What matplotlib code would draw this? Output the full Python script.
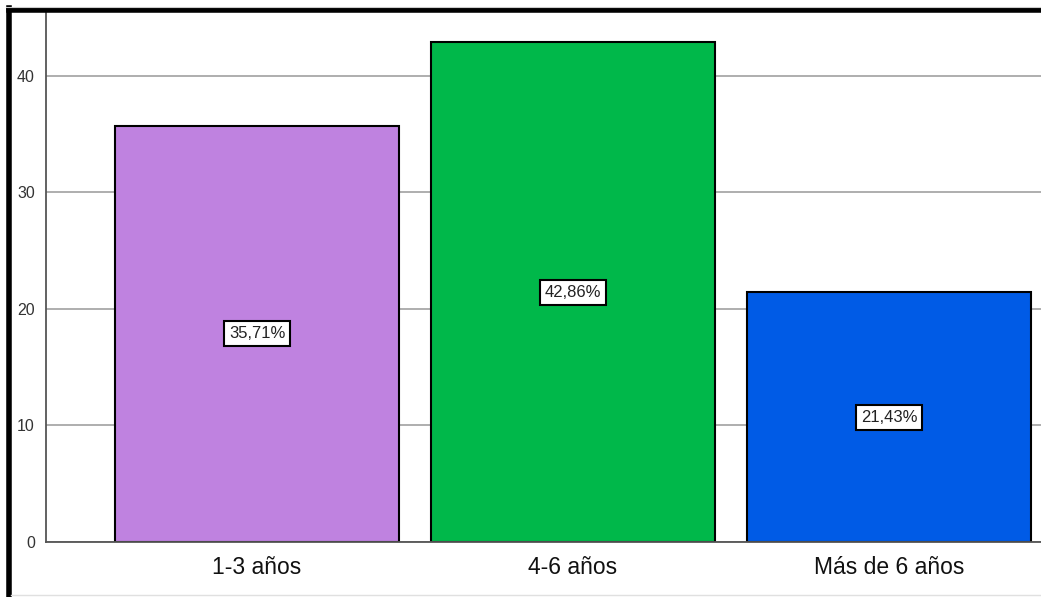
import matplotlib
matplotlib.use("Agg")
import matplotlib.pyplot as plt
from matplotlib.lines import Line2D

categories = ["1-3 años", "4-6 años", "Más de 6 años"]
values = [35.71, 42.86, 21.43]
labels = ["35,71%", "42,86%", "21,43%"]
colors = ["#BF82E0", "#00B84A", "#005BE6"]
yticks = [0, 10, 20, 30, 40]

W, H = 1041, 597
fig = plt.figure(figsize=(W / 100, H / 100), dpi=100)
fig.patch.set_facecolor("white")

ax_left, ax_right, ax_top, ax_bottom = 46, 1041, 12, 542
ax = fig.add_axes([ax_left / W, (H - ax_bottom) / H,
                   (ax_right - ax_left) / W, (ax_bottom - ax_top) / H])

fam = ["Liberation Sans Narrow", "Liberation Sans", "DejaVu Sans"]

x = list(range(len(categories)))
ax.set_axisbelow(True)
ax.yaxis.grid(True, color="#A8A8A8", linewidth=1.3)
bars = ax.bar(x, values, width=0.899, color=colors, edgecolor="black", linewidth=1.5, zorder=3)
for xi, v, lab in zip(x, values, labels):
    ax.text(xi, v / 2, lab, ha="center", va="center", fontsize=12, family=fam,
            color="#222222", zorder=5,
            bbox=dict(boxstyle="square,pad=0.3", facecolor="white", edgecolor="black", linewidth=1.5))

ax.set_xlim(-0.668, 2.481)
ax.set_ylim(0, 45.45)
ax.set_yticks(yticks)
ax.set_yticklabels([str(t) for t in yticks], family=fam, fontsize=11.5, color="#333333")
ax.set_xticks(x)
ax.set_xticklabels(categories, family=fam, fontsize=16.5, color="#111111")
ax.tick_params(axis="both", length=0)
ax.tick_params(axis="y", pad=8)
ax.tick_params(axis="x", pad=10)
for s in ["top", "right"]:
    ax.spines[s].set_visible(False)
ax.spines["left"].set_color("#555555")
ax.spines["left"].set_linewidth(1.3)
ax.spines["bottom"].set_color("#555555")
ax.spines["bottom"].set_linewidth(1.3)
ax.spines["bottom"].set_zorder(4)

# frame lines (screenshot border)
fig.add_artist(Line2D([8.5 / W, 1.0], [(H - 10) / H, (H - 10) / H], color="black", linewidth=4, transform=fig.transFigure))
fig.add_artist(Line2D([8.5 / W, 8.5 / W], [0, (H - 8) / H], color="black", linewidth=4, transform=fig.transFigure))
fig.add_artist(Line2D([6 / W, 1.0], [(H - 6.5) / H, (H - 6.5) / H], color="#CCCCCC", linewidth=0.8, transform=fig.transFigure))
fig.add_artist(Line2D([11 / W, 1.0], [2 / H, 2 / H], color="#E0E0E0", linewidth=1, transform=fig.transFigure))

fig.savefig("out.png", dpi=100, facecolor="white")
